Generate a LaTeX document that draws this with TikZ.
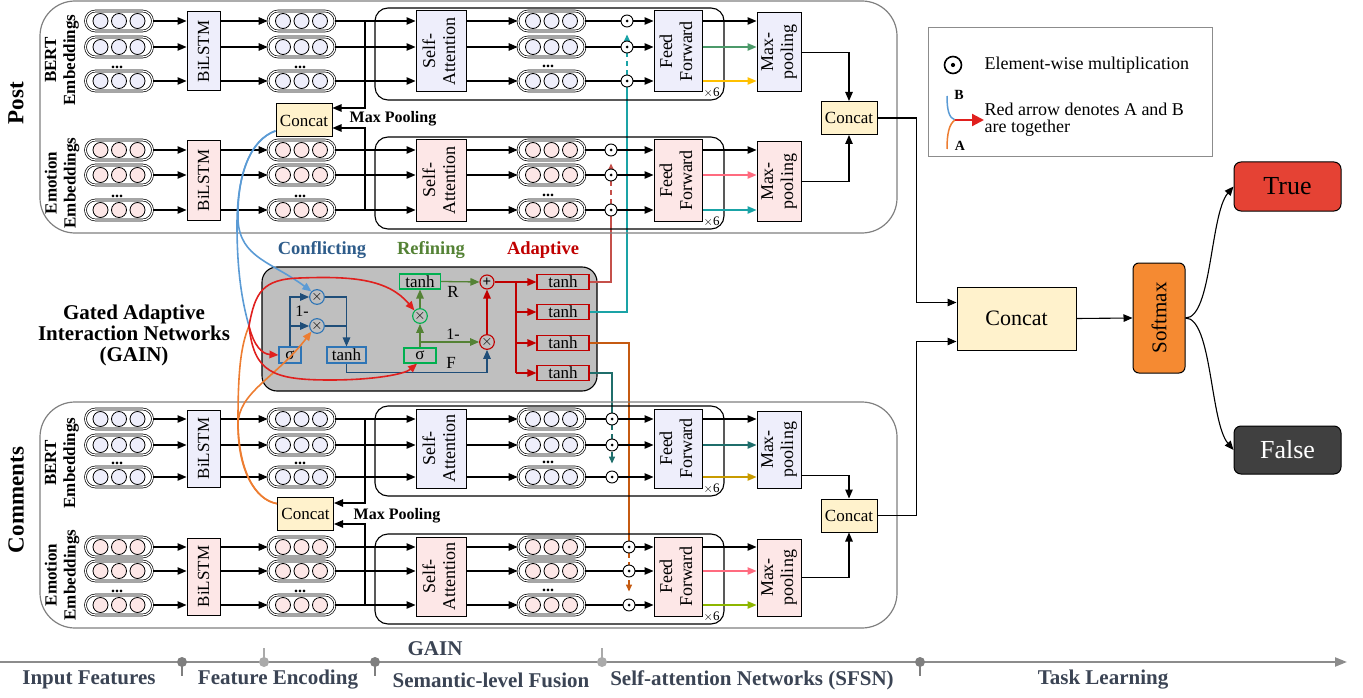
\documentclass[tikz,border=0pt]{standalone}
\usepackage{fontspec}
\usepackage{graphicx}
\setmainfont{Liberation Serif}
\usetikzlibrary{arrows.meta,calc}
\pgfdeclarelayer{bg}
\pgfsetlayers{bg,main}
\definecolor{lavf}{RGB}{238,238,251}
\definecolor{pinkf}{RGB}{253,231,231}
\definecolor{concf}{RGB}{255,242,204}
\definecolor{cblue}{RGB}{46,117,182}
\definecolor{cbline}{RGB}{31,78,121}
\definecolor{ctext}{RGB}{46,92,138}
\definecolor{rgreen}{RGB}{0,176,80}
\definecolor{rgline}{RGB}{84,130,53}
\definecolor{adred}{RGB}{192,0,0}
\definecolor{curvred}{RGB}{224,32,30}
\definecolor{curvblue}{RGB}{91,155,213}
\definecolor{curvorange}{RGB}{237,125,49}
\definecolor{tealA}{RGB}{26,163,166}
\definecolor{brownA}{RGB}{197,80,74}
\definecolor{dteal}{RGB}{31,110,107}
\definecolor{orangeA}{RGB}{197,90,17}
\definecolor{ffgreen}{RGB}{76,154,106}
\definecolor{ffyellow}{RGB}{255,192,0}
\definecolor{ffpink}{RGB}{255,107,127}
\definecolor{ffgold}{RGB}{200,155,0}
\definecolor{fflime}{RGB}{141,182,0}
\definecolor{axgray}{RGB}{140,140,140}
\definecolor{axdark}{RGB}{127,127,127}
\definecolor{axlight}{RGB}{170,170,170}
\definecolor{axtext}{RGB}{59,68,84}
\definecolor{gainfill}{RGB}{191,191,191}
\definecolor{smxf}{RGB}{245,138,50}
\definecolor{truef}{RGB}{229,66,52}
\definecolor{falsef}{RGB}{64,64,64}
\tikzset{
 ln/.style={line width=1.1pt, draw=black},
 arr/.style={-{Triangle[length=9pt,width=7.5pt]}},
 sarr/.style={-{Triangle[length=7pt,width=6pt]}},
 caps/.style={draw, line width=0.7pt, double=white, double distance=1.2pt, rounded corners=10pt, minimum width=67pt, minimum height=20pt, inner sep=0pt},
 cball/.style={draw, line width=0.8pt},
 blk/.style={draw, line width=1pt, inner sep=0pt, font=\fontsize{18}{20}\selectfont},
 sfsn/.style={draw, line width=1.1pt, rounded corners=13pt, minimum width=349pt, inner sep=0pt},
 odot/.style={circle, draw, line width=0.9pt, fill=white, minimum size=12pt, inner sep=0pt, path picture={\fill[black] (path picture bounding box.center) circle (1.5pt);}},
 odotL/.style={circle, draw, line width=1.6pt, fill=white, minimum size=17pt, inner sep=0pt, path picture={\fill[black] (path picture bounding box.center) circle (2.1pt);}},
 secbox/.style={draw=black!50, line width=1.2pt, rounded corners=35pt, minimum width=857pt, inner sep=0pt},
 conc/.style={draw, line width=1pt, fill=concf, minimum width=56pt, minimum height=33pt, inner sep=0pt, font=\fontsize{17}{19}\selectfont},
 ell/.style={inner sep=0pt, font=\bfseries\fontsize{16}{16}\selectfont},
 gbx/.style={draw, line width=1.1pt, inner sep=0pt, font=\fontsize{17}{17}\selectfont},
 gcirc/.style={circle, draw, line width=1.1pt, minimum size=14pt, inner sep=0pt, font=\fontsize{15}{15}\selectfont},
 cl/.style={draw=cbline, line width=1.3pt},
 gl/.style={draw=rgline, line width=1.3pt},
 rl/.style={draw=adred, line width=1.3pt},
 redc/.style={draw=curvred, line width=1.6pt},
 bluec/.style={draw=curvblue, line width=1.6pt},
 orangec/.style={draw=curvorange, line width=1.6pt},
 glab/.style={font=\fontsize{16}{16}\selectfont, inner sep=0pt},
 dsh/.style={dash pattern=on 5pt off 4pt},
 axlab/.style={text=axtext, font=\bfseries\fontsize{21}{22}\selectfont, inner sep=0pt},
}
% #1 prefix #2 y1 #3 y2 #4 y3 #5 fill #6 odot x #7 colour row 2 #8 colour row 3
\newcommand\drawstream[8]{%
\pgfmathsetmacro\smid{(#2+#4)/2}%
\pgfmathsetmacro\sha{#4-#2+19}%
\pgfmathsetmacro\shb{#4-#2+21}%
\pgfmathsetmacro\shc{#4-#2+32}%
\node[sfsn, minimum height=\shc pt] (#1sf) at (549.5,\smid+3) {};
\node[blk, fill=#5, minimum width=33pt, minimum height=\sha pt, font=\fontsize{17}{19}\selectfont] (#1bl) at (203.5,\smid+0.5) {\rotatebox{90}{BiLSTM}};
\node[blk, fill=#5, minimum width=50pt, minimum height=\shb pt] (#1sa) at (441,\smid+0.5) {\rotatebox{90}{\begin{tabular}{@{}c@{}}Self-\\Attention\end{tabular}}};
\node[blk, fill=#5, minimum width=48pt, minimum height=\shb pt] (#1ff) at (678,\smid+0.5) {\rotatebox{90}{\begin{tabular}{@{}c@{}}Feed\\Forward\end{tabular}}};
\node[blk, fill=#5, minimum width=44pt, minimum height=\sha pt] (#1mp) at (779,\smid+1.5) {\rotatebox{90}{\begin{tabular}{@{}c@{}}Max-\\pooling\end{tabular}}};
\node[anchor=west, inner sep=1pt, font=\fontsize{13}{14}\selectfont] (#1xs) at (#1ff.south east) {$\times$6};
\foreach \ri/\yy in {1/#2,2/#3,3/#4} {
  \node[caps] (#1a\ri) at (119,\yy) {};
  \node[caps] (#1b\ri) at (301.5,\yy) {};
  \node[caps] (#1c\ri) at (551.5,\yy) {};
  \foreach \cx in {100.5,119,137.5,283,301.5,320,533,551.5,570} \draw[cball, fill=#5] (\cx,\yy) circle[radius=7.5pt];
  \node[odot] (#1o\ri) at (#6,\yy) {};
  \draw[ln,arr] (#1a\ri.east) -- (#1a\ri.east -| #1bl.west);
  \draw[ln,arr] (#1bl.east |- #1b\ri) -- (#1b\ri.west);
  \draw[ln,arr] (#1b\ri.east) -- (#1b\ri.east -| #1sa.west);
  \draw[ln,arr] (#1sa.east |- #1c\ri) -- (#1c\ri.west);
  \draw[ln] (#1c\ri.east) -- (#1o\ri.west);
  \draw[ln,arr] (#1o\ri.east) -- (#1o\ri.east -| #1ff.west);
}
\node[ell] (#1da) at (117,#4-14) {...};
\node[ell] (#1db) at (300,#4-14) {...};
\node[ell] (#1dc) at (548,#4-15) {...};
\draw[ln,arr] (#1ff.east |- #1o1) -- (#1o1 -| #1mp.west);
\draw[line width=1.1pt,arr,color=#7] (#1ff.east |- #1o2) -- (#1o2 -| #1mp.west);
\draw[line width=1.1pt,arr,color=#8] (#1ff.east |- #1o3) -- (#1o3 -| #1mp.west);
}
\begin{document}
\begin{tikzpicture}[x=1pt,y=-1pt]
\useasboundingbox (0,0) rectangle (1363,698);
% section frames
\node[secbox, minimum height=232pt] (postbox) at (468.5,117) {};
\node[secbox, minimum height=226pt] (combox) at (468.5,515) {};
% streams
\drawstream{pb}{21}{47}{81}{lavf}{627}{ffgreen}{ffyellow}
\drawstream{pe}{150}{175}{210}{pinkf}{611}{ffpink}{tealA}
\drawstream{cb}{419}{445}{477}{lavf}{612}{dteal}{ffgold}
\drawstream{ce}{547}{571}{605}{pinkf}{629}{ffpink}{fflime}
% left concats (max pooling)
\node[conc] (plc) at (304,120.5) {Concat};
\node[conc] (clc) at (305.5,514) {Concat};
\coordinate (vx) at (365,0);
\draw[ln,arr] (pbb1 -| vx) |- ($(plc.east)+(0,-12.5)$);
\draw[ln,arr] (peb3 -| vx) |- ($(plc.east)+(0,7.5)$);
\draw[ln,arr] (cbb1 -| vx) |- ($(clc.east)+(0,-11)$);
\draw[ln,arr] (ceb3 -| vx) |- ($(clc.east)+(0,10)$);
\node[font=\bfseries\fontsize{16}{16}\selectfont] (pmpl) at (393,119) {Max Pooling};
\node[font=\bfseries\fontsize{16}{16}\selectfont] (cmpl) at (397,516) {Max Pooling};
% right concats
\node[conc] (pcr) at (849,118) {Concat};
\node[conc] (ccr) at (849,515.5) {Concat};
\draw[ln,arr] (pbmp.east) -| (pcr.north);
\draw[ln,arr] (pemp.east) -| (pcr.south);
\draw[ln,arr] ($(cbmp.south east)+(0,-13)$) -| (ccr.north);
\draw[ln,arr] (cemp.east) -| (ccr.south);
% task learning
\node[draw, line width=1pt, fill=concf, minimum width=119pt, minimum height=63pt, font=\fontsize{22}{24}\selectfont] (bigc) at (1016.5,318.5) {Concat};
\draw[ln,arr] (pcr.east) -| ($(bigc.west)+(-40,-16)$) -- ($(bigc.west)+(0,-16)$);
\draw[ln,arr] (ccr.east) -| ($(bigc.west)+(-40,23)$) -- ($(bigc.west)+(0,23)$);
\node[draw, line width=1pt, fill=smxf, rounded corners=6pt, minimum width=52pt, minimum height=110pt, inner sep=0pt, font=\fontsize{21}{22}\selectfont] (smx) at (1159,318) {\rotatebox{90}{Softmax}};
\node[draw, line width=1pt, fill=truef, rounded corners=7pt, minimum width=107pt, minimum height=49pt, font=\fontsize{26}{28}\selectfont] (tru) at (1287.5,186.5) {True};
\node[draw, line width=1pt, fill=falsef, text=white, rounded corners=7pt, minimum width=107pt, minimum height=48pt, font=\fontsize{26}{28}\selectfont] (fal) at (1287.5,450) {False};
\draw[ln,arr] (bigc.east) -- (smx.west);
\draw[ln,arr] (smx.east) .. controls (1212,318) and (1210,214) .. (tru.west);
\draw[ln,arr] (smx.east) .. controls (1212,318) and (1210,422) .. (fal.west);
% legend
\node[draw=black!45, line width=1pt, minimum width=284pt, minimum height=129pt] (leg) at (1070,92.5) {};
\node[odotL] (lgo) at (953,65) {};
\node[anchor=west, font=\fontsize{18}{20}\selectfont] (lgt1) at (981,65) {Element-wise multiplication};
\node[anchor=west, align=left, font=\fontsize{18}{17}\selectfont] (lgt2) at (981,120) {Red arrow denotes A and B\\are together};
\coordinate (lgB) at (947,96);
\coordinate (lgM) at (955,120);
\coordinate (lgA) at (947,149);
\coordinate (lgR) at (984,120);
\draw[curvblue, line width=1.5pt] (lgB) .. controls (947,110) and (949,118) .. (lgM);
\draw[curvorange, line width=1.5pt] (lgM) .. controls (949,124) and (947,134) .. (lgA);
\draw[curvred, line width=2.2pt, -{Triangle[length=12pt,width=12pt]}] (lgM) -- (lgR);
\node[font=\bfseries\fontsize{14}{14}\selectfont] (lgBl) at (959,95) {B};
\node[font=\bfseries\fontsize{14}{14}\selectfont] (lgAl) at (960,146) {A};
% GAIN
\begin{pgfonlayer}{bg}
\node[draw, line width=1.1pt, fill=gainfill, rounded corners=15pt, minimum width=335pt, minimum height=124pt] (gain) at (429.5,329) {};
\end{pgfonlayer}
\node[align=center, font=\bfseries\fontsize{21}{21}\selectfont] (gtitle) at (134,335) {Gated Adaptive\\Interaction Networks\\(GAIN)};
\node[text=ctext, font=\bfseries\fontsize{18.5}{20}\selectfont] (lconf) at (322,250) {Conflicting};
\node[text=rgline, font=\bfseries\fontsize{18.5}{20}\selectfont] (lref) at (431,250) {Refining};
\node[text=adred, font=\bfseries\fontsize{18.5}{20}\selectfont] (ladp) at (543,250) {Adaptive};
\node[gbx, draw=cblue, minimum width=22pt, minimum height=16pt] (gs1) at (290,355) {σ};
\node[gcirc, draw=cblue] (m1) at (317,297) {$\times$};
\node[gcirc, draw=cblue] (m2) at (317,326) {$\times$};
\node[gbx, draw=cblue, minimum width=39pt, minimum height=16pt] (gt1) at (346.5,355) {tanh};
\node[gbx, draw=rgreen, minimum width=32pt, minimum height=15pt] (gs2) at (420,355.5) {σ};
\node[gcirc, draw=rgreen] (m3) at (420,316) {$\times$};
\node[gbx, draw=rgreen, minimum width=41pt, minimum height=15pt] (gt2) at (420,281.5) {tanh};
\node[gcirc, draw=adred] (ad) at (487,282) {\textbf{+}};
\node[gcirc, draw=adred] (m4) at (487,342) {$\times$};
\foreach \gi/\gy in {1/282,2/312,3/343,4/373}
  \node[gbx, draw=adred, minimum width=52pt, minimum height=15pt] (go\gi) at (563,\gy) {tanh};
\draw[cl,arr] (gs1.north) |- (m1.west);
\draw[cl,arr] (gs1.north |- m2) -- (m2.west);
\node[glab] (one1) at (302,311) {1-};
\draw[cl] (m1.east) -| (gt1.north |- m2);
\draw[cl,arr] (m2.east) -| (gt1.north);
\draw[cl,arr] (gt1.south) -- ++(0,9) -| (m4.south);
\node[glab, font=\fontsize{17}{17}\selectfont] (flab) at (451,363) {F};
\draw[gl,arr] (gs2.north) -- (m3.south);
\draw[gl,arr] (gs2.north |- m4) -- (m4.west);
\node[glab] (one2) at (453,334) {1-};
\draw[gl,arr] (m3.north) -- (gt2.south);
\draw[gl,arr] (gt2.east) -- (ad.west);
\node[glab, font=\fontsize{17}{17}\selectfont] (rlab) at (453,292) {R};
\draw[rl,arr] (m4.north) -- (ad.south);
\coordinate (rb) at (516,282);
\draw[rl] (ad.east) -- (rb) -- (rb |- go4);
\foreach \gi in {1,2,3,4} \draw[rl,arr] (rb |- go\gi) -- (go\gi.west);
% outputs of GAIN into the fusion columns
\begin{pgfonlayer}{bg}
\draw[line width=1.4pt, brownA] (go1.east) -| (peo3.south);
\draw[line width=1.4pt, brownA, dsh, sarr] (peo3.north) -- ($(peo1.south)+(0,7)$);
\draw[line width=1.4pt, tealA] (go2.east) -| (pbo3.south);
\draw[line width=1.4pt, tealA, dsh, sarr] (pbo3.north) -- ($(pbo1.south)+(0,7)$);
\draw[line width=1.4pt, orangeA] (go3.east) -| (ceo1.north);
\draw[line width=1.4pt, orangeA, dsh, sarr] (ceo1.south) -- ($(ceo3.north)+(0,-7)$);
\draw[line width=1.4pt, dteal] (go4.east) -| (cbo1.north);
\draw[line width=1.4pt, dteal, dsh, sarr] (cbo1.south) -- ($(cbo3.north)+(0,-7)$);
\end{pgfonlayer}
% feature routing curves
\coordinate (J) at (249,326);
\draw[bluec] (plc.200) .. controls (250,140) and (237,175) .. (237,225) .. controls (237,275) and (243,305) .. (J);
\draw[bluec,arr] (plc.200) .. controls (250,140) and (237,175) .. (238,220) .. controls (240,258) and (272,262) .. (m1.north west);
\draw[orangec] (clc.160) .. controls (255,500) and (238,470) .. (238,420) .. controls (238,370) and (241,345) .. (J);
\draw[orangec,arr] (clc.160) .. controls (255,500) and (238,470) .. (238,425) .. controls (238,392) and (276,378) .. (m2.south west);
\draw[redc,arr] (J) .. controls (255,293) and (262,279) .. (300,278) .. controls (352,276) and (388,279) .. (m3.north west);
\draw[redc,arr] (J) .. controls (254,346) and (262,354) .. (gs1.west);
\draw[redc,arr] (J) .. controls (254,372) and (272,380) .. (330,380) .. controls (375,380) and (405,374) .. (gs2.250);
% section labels
\node[rotate=90, font=\bfseries\fontsize{23}{25}\selectfont] (lpost) at (16,103) {Post};
\node[rotate=90, font=\bfseries\fontsize{23}{25}\selectfont] (lcom) at (16,500) {Comments};
\node[rotate=90, align=center, font=\bfseries\fontsize{17}{19}\selectfont] (lpb) at (62,60) {BERT\\Embeddings};
\node[rotate=90, align=center, font=\bfseries\fontsize{17}{19}\selectfont] (lpe) at (62,183) {Emotion\\Embeddings};
\node[rotate=90, align=center, font=\bfseries\fontsize{17}{19}\selectfont] (lcb) at (62,463) {BERT\\Embeddings};
\node[rotate=90, align=center, font=\bfseries\fontsize{17}{19}\selectfont] (lce) at (62,575) {Emotion\\Embeddings};
% stage axis
\coordinate (ax0) at (0,662);
\coordinate (ax1) at (1347,662);
\draw[axgray, line width=2.2pt, -{Triangle[length=12pt,width=9pt]}] (ax0) -- (ax1);
\foreach \nm/\xx in {d1/182,d3/375,d5/920} {
  \node[circle, fill=axdark, minimum size=10pt, inner sep=0pt] (\nm) at (\xx,662) {};
  \draw[axdark, line width=1.5pt] (\nm.center) -- ++(0,14);
}
\foreach \nm/\xx in {d2/264,d4/602} {
  \node[circle, fill=axlight, minimum size=10pt, inner sep=0pt] (\nm) at (\xx,662) {};
  \draw[axlight, line width=1.5pt] (\nm.center) -- ++(0,-14);
}
\node[axlab] (s1) at (89,680) {Input Features};
\node[axlab] (s2) at (278,680) {Feature Encoding};
\node[axlab] (s3) at (491,680) {Semantic-level Fusion};
\node[axlab] (s4) at (752,680) {Self-attention Networks (SFSN)};
\node[axlab] (s5) at (1103,680) {Task Learning};
\node[axlab] (s6) at (435,649) {GAIN};
\end{tikzpicture}
\end{document}
